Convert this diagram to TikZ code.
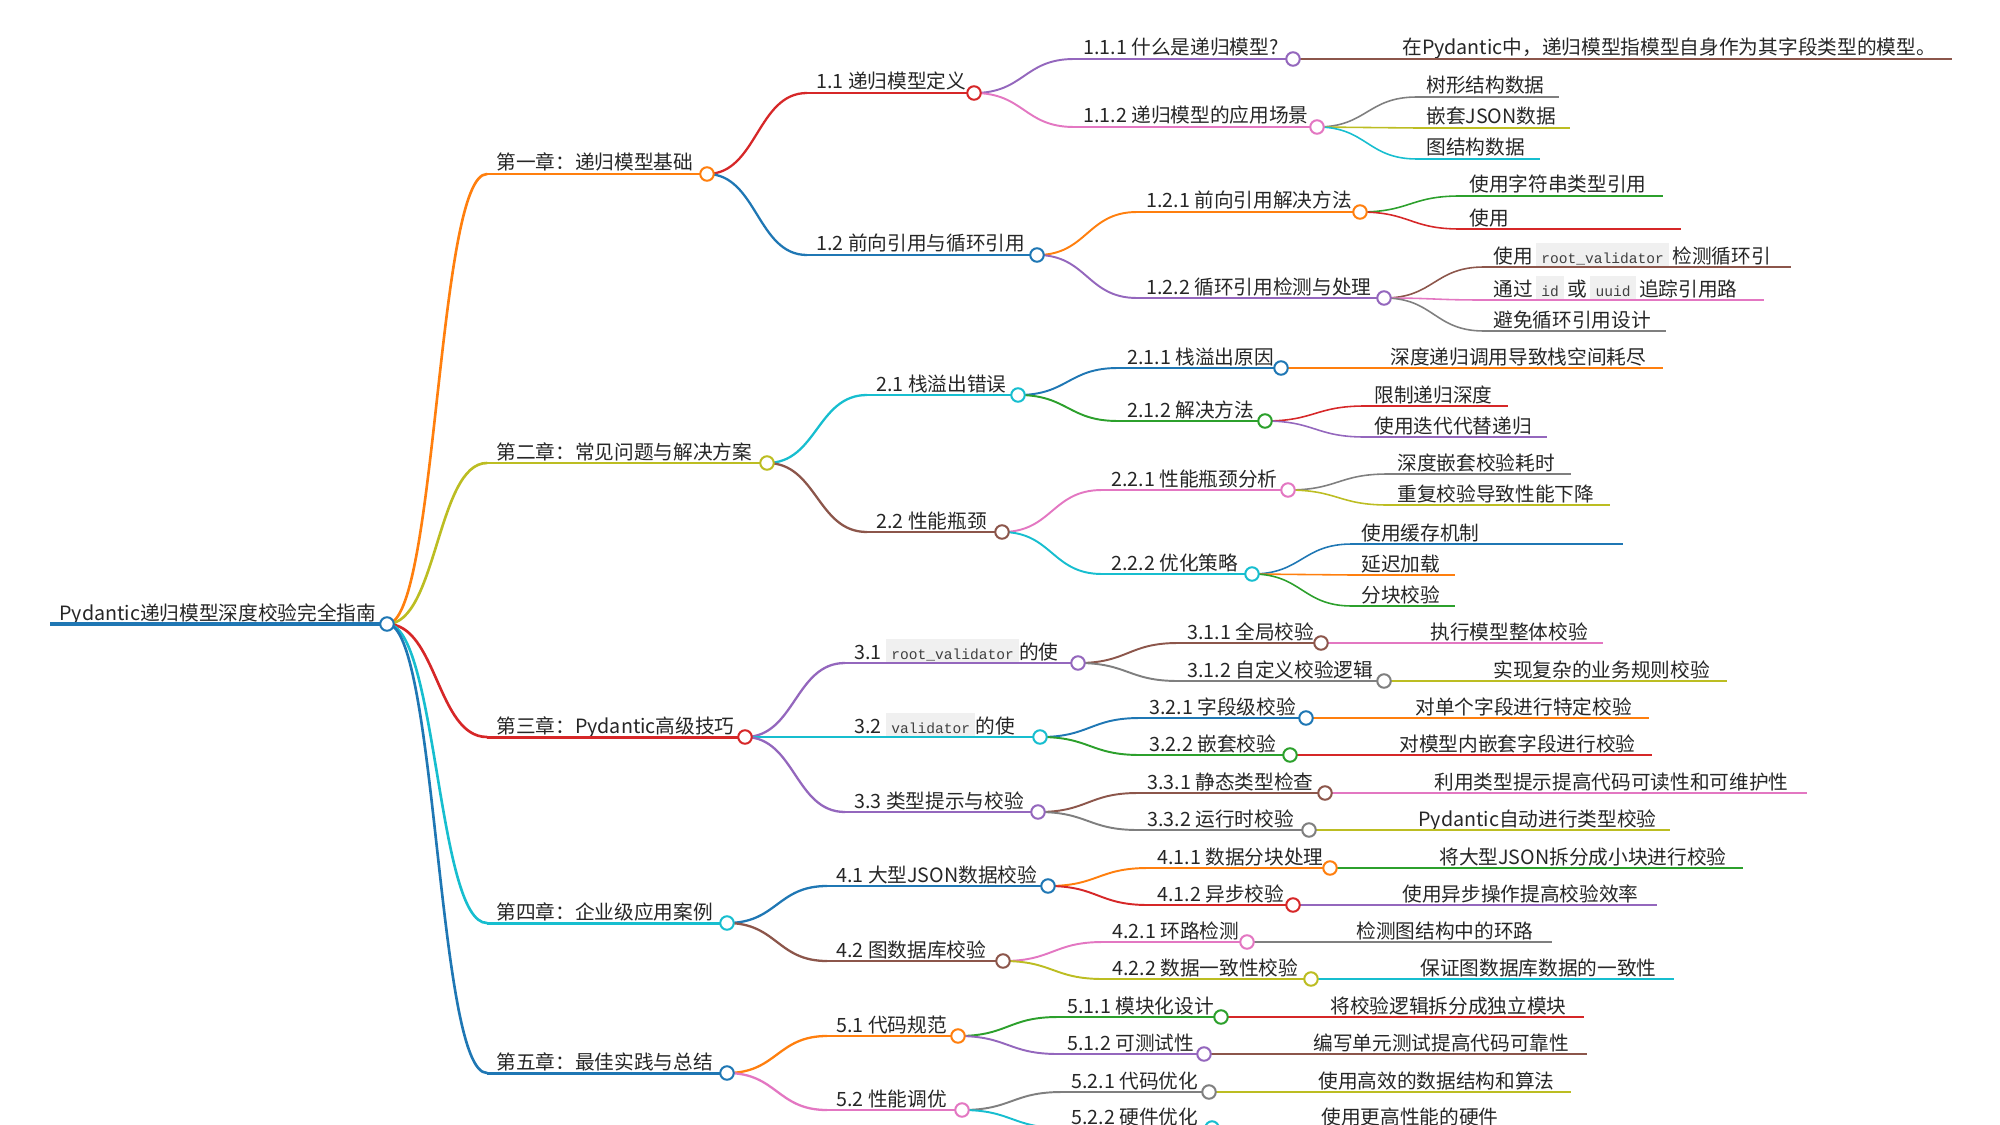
\documentclass[tikz,border=0pt]{standalone}
\usepackage{fontspec}
\setmainfont{Noto Sans CJK SC}
\setmonofont{Liberation Mono}
\usetikzlibrary{backgrounds}
\definecolor{MapBlue}{HTML}{1F77B4}
\definecolor{MapOrange}{HTML}{FF7F0E}
\definecolor{MapGreen}{HTML}{2CA02C}
\definecolor{MapRed}{HTML}{D62728}
\definecolor{MapPurple}{HTML}{9467BD}
\definecolor{MapBrown}{HTML}{8C564B}
\definecolor{MapPink}{HTML}{E377C2}
\definecolor{MapGray}{HTML}{7F7F7F}
\definecolor{MapOlive}{HTML}{BCBD22}
\definecolor{MapCyan}{HTML}{17BECF}
\definecolor{CodeBg}{HTML}{F0F0F0}
\newcommand{\code}[1]{{\setlength{\fboxsep}{0pt}\colorbox{CodeBg}{\hspace{3pt}\rule[-2.4pt]{0pt}{14pt}{\ttfamily\fontsize{8.3pt}{10pt}\selectfont\color{black!75}#1}\hspace{3pt}}}}

\begin{document}
\begin{tikzpicture}[x=0.02cm,y=-0.02cm,
  lbl/.style={anchor=base west,inner sep=0pt,text=black!85,font=\fontsize{11.2pt}{13pt}\selectfont},
  dot/.style={circle,fill=white,line width=1.15pt,minimum size=0.27cm,inner sep=0pt},
  lnk/.style={line cap=round,to path={.. controls +(50,0) and +(-50,0) .. (\tikztotarget)}},
]
\useasboundingbox (0,0) rectangle (2000,1125);

% root
\node[lbl] (troot) at (59,620) {Pydantic递归模型深度校验完全指南};
\draw[MapBlue,line width=2.8pt] (50,624) coordinate (sroot) -- (387,624) coordinate (root);
\node[dot,draw=MapBlue] (droot) at (root) {};

% chapters
\foreach \nm/\up/\xs/\xe/\y/\col/\txt in {
  c1/root/487/707/174/MapOrange/{第一章：递归模型基础},
  c2/root/487/767/463/MapOlive/{第二章：常见问题与解决方案},
  c3/root/487/745/737/MapRed/{第三章：Pydantic高级技巧},
  c4/root/487/727/923/MapCyan/{第四章：企业级应用案例},
  c5/root/487/727/1073/MapBlue/{第五章：最佳实践与总结}}{
  \node[lbl] (t\nm) at (\xs+9,\y-4) {\txt};
  \draw[\col,line width=1.7pt] (\xs,\y) coordinate (s\nm) -- (\xe,\y) coordinate (\nm);
  \begin{pgfonlayer}{background}
    \draw[lnk,\col,line width=1.5pt] (\up) to (s\nm);
  \end{pgfonlayer}
  \node[dot,draw=\col] (d\nm) at (\nm) {};
}

% sections
\foreach \nm/\up/\xs/\xe/\y/\col/\txt in {
  s11/c1/807/974/93/MapRed/{1.1 递归模型定义},
  s12/c1/807/1037/255/MapBlue/{1.2 前向引用与循环引用},
  s21/c2/867/1018/395/MapCyan/{2.1 栈溢出错误},
  s22/c2/867/1002/532/MapBrown/{2.2 性能瓶颈},
  s31/c3/845/1078/663/MapPurple/{3.1 \code{root\_validator}的使},
  s32/c3/845/1040/737/MapCyan/{3.2 \code{validator}的使},
  s33/c3/845/1038/812/MapPurple/{3.3 类型提示与校验},
  s41/c4/827/1048/886/MapBlue/{4.1 大型JSON数据校验},
  s42/c4/827/1003/961/MapBrown/{4.2 图数据库校验},
  s51/c5/827/958/1036/MapOrange/{5.1 代码规范},
  s52/c5/827/962/1110/MapPink/{5.2 性能调优}}{
  \node[lbl] (t\nm) at (\xs+9,\y-4) {\txt};
  \draw[\col,line width=1.4pt] (\xs,\y) coordinate (s\nm) -- (\xe,\y) coordinate (\nm);
  \begin{pgfonlayer}{background}
    \draw[lnk,\col,line width=1.3pt] (\up) to (s\nm);
  \end{pgfonlayer}
  \node[dot,draw=\col] (d\nm) at (\nm) {};
}

% subsections
\foreach \nm/\up/\xs/\xe/\y/\col/\txt in {
  t111/s11/1074/1293/59/MapPurple/{1.1.1 什么是递归模型?},
  t112/s11/1074/1317/127/MapPink/{1.1.2 递归模型的应用场景},
  t121/s12/1137/1360/212/MapOrange/{1.2.1 前向引用解决方法},
  t122/s12/1137/1384/298/MapPurple/{1.2.2 循环引用检测与处理},
  t211/s21/1118/1281/368/MapBlue/{2.1.1 栈溢出原因},
  t212/s21/1118/1265/421/MapGreen/{2.1.2 解决方法},
  t221/s22/1102/1288/490/MapPink/{2.2.1 性能瓶颈分析},
  t222/s22/1102/1252/574/MapCyan/{2.2.2 优化策略},
  t311/s31/1178/1321/643/MapBrown/{3.1.1 全局校验},
  t312/s31/1178/1384/681/MapGray/{3.1.2 自定义校验逻辑},
  t321/s32/1140/1306/718/MapBlue/{3.2.1 字段级校验},
  t322/s32/1140/1290/755/MapGreen/{3.2.2 嵌套校验},
  t331/s33/1138/1325/793/MapBrown/{3.3.1 静态类型检查},
  t332/s33/1138/1309/830/MapGray/{3.3.2 运行时校验},
  t411/s41/1148/1330/868/MapOrange/{4.1.1 数据分块处理},
  t412/s41/1148/1293/905/MapRed/{4.1.2 异步校验},
  t421/s42/1103/1247/942/MapPink/{4.2.1 环路检测},
  t422/s42/1103/1311/979/MapOlive/{4.2.2 数据一致性校验},
  t511/s51/1058/1221/1017/MapGreen/{5.1.1 模块化设计},
  t512/s51/1058/1204/1054/MapPurple/{5.1.2 可测试性},
  t521/s52/1062/1209/1092/MapGray/{5.2.1 代码优化},
  t522/s52/1062/1212/1128/MapCyan/{5.2.2 硬件优化}}{
  \node[lbl] (t\nm) at (\xs+9,\y-4) {\txt};
  \draw[\col,line width=1.15pt] (\xs,\y) coordinate (s\nm) -- (\xe,\y) coordinate (\nm);
  \begin{pgfonlayer}{background}
    \draw[lnk,\col,line width=1.1pt] (\up) to (s\nm);
  \end{pgfonlayer}
  \node[dot,draw=\col] (d\nm) at (\nm) {};
}

% leaves
\foreach \nm/\up/\xs/\xe/\y/\col/\txt in {
  l111/t111/1393/1952/59/MapBrown/{在Pydantic中，递归模型指模型自身作为其字段类型的模型。},
  l112a/t112/1417/1559/97/MapGray/{树形结构数据},
  l112b/t112/1417/1570/128/MapOlive/{嵌套JSON数据},
  l112c/t112/1417/1540/159/MapCyan/{图结构数据},
  l121a/t121/1460/1663/196/MapGreen/{使用字符串类型引用},
  l121b/t121/1460/1681/229/MapRed/{使用},
  l122a/t122/1484/1791/267/MapBrown/{使用\,\code{root\_validator}\,检测循环引},
  l122b/t122/1484/1764/300/MapPink/{通过\,\code{id}\,或\,\code{uuid}\,追踪引用路},
  l122c/t122/1484/1666/331/MapGray/{避免循环引用设计},
  l211/t211/1381/1663/368/MapOrange/{深度递归调用导致栈空间耗尽},
  l212a/t212/1365/1508/406/MapRed/{限制递归深度},
  l212b/t212/1365/1547/437/MapPurple/{使用迭代代替递归},
  l221a/t221/1388/1571/474/MapGray/{深度嵌套校验耗时},
  l221b/t221/1388/1610/505/MapOlive/{重复校验导致性能下降},
  l222a/t222/1352/1623/544/MapBlue/{使用缓存机制},
  l222b/t222/1352/1455/575/MapOrange/{延迟加载},
  l222c/t222/1352/1455/606/MapGreen/{分块校验},
  l311/t311/1421/1603/643/MapPink/{执行模型整体校验},
  l312/t312/1484/1727/681/MapOlive/{实现复杂的业务规则校验},
  l321/t321/1406/1649/718/MapOrange/{对单个字段进行特定校验},
  l322/t322/1390/1652/755/MapRed/{对模型内嵌套字段进行校验},
  l331/t331/1425/1807/793/MapPink/{利用类型提示提高代码可读性和可维护性},
  l332/t332/1409/1670/830/MapOlive/{Pydantic自动进行类型校验},
  l411/t411/1430/1743/868/MapGreen/{将大型JSON拆分成小块进行校验},
  l412/t412/1393/1657/905/MapPurple/{使用异步操作提高校验效率},
  l421/t421/1347/1552/942/MapGray/{检测图结构中的环路},
  l422/t422/1411/1674/979/MapCyan/{保证图数据库数据的一致性},
  l511/t511/1321/1584/1017/MapRed/{将校验逻辑拆分成独立模块},
  l512/t512/1304/1587/1054/MapBrown/{编写单元测试提高代码可靠性},
  l521/t521/1309/1571/1092/MapOlive/{使用高效的数据结构和算法},
  l522/t522/1312/1540/1128/MapBlue/{使用更高性能的硬件}}{
  \node[lbl] (t\nm) at (\xs+9,\y-4) {\txt};
  \draw[\col,line width=0.9pt] (\xs,\y) coordinate (s\nm) -- (\xe,\y) coordinate (\nm);
  \begin{pgfonlayer}{background}
    \draw[lnk,\col,line width=0.9pt] (\up) to (s\nm);
  \end{pgfonlayer}
}
\end{tikzpicture}
\end{document}
